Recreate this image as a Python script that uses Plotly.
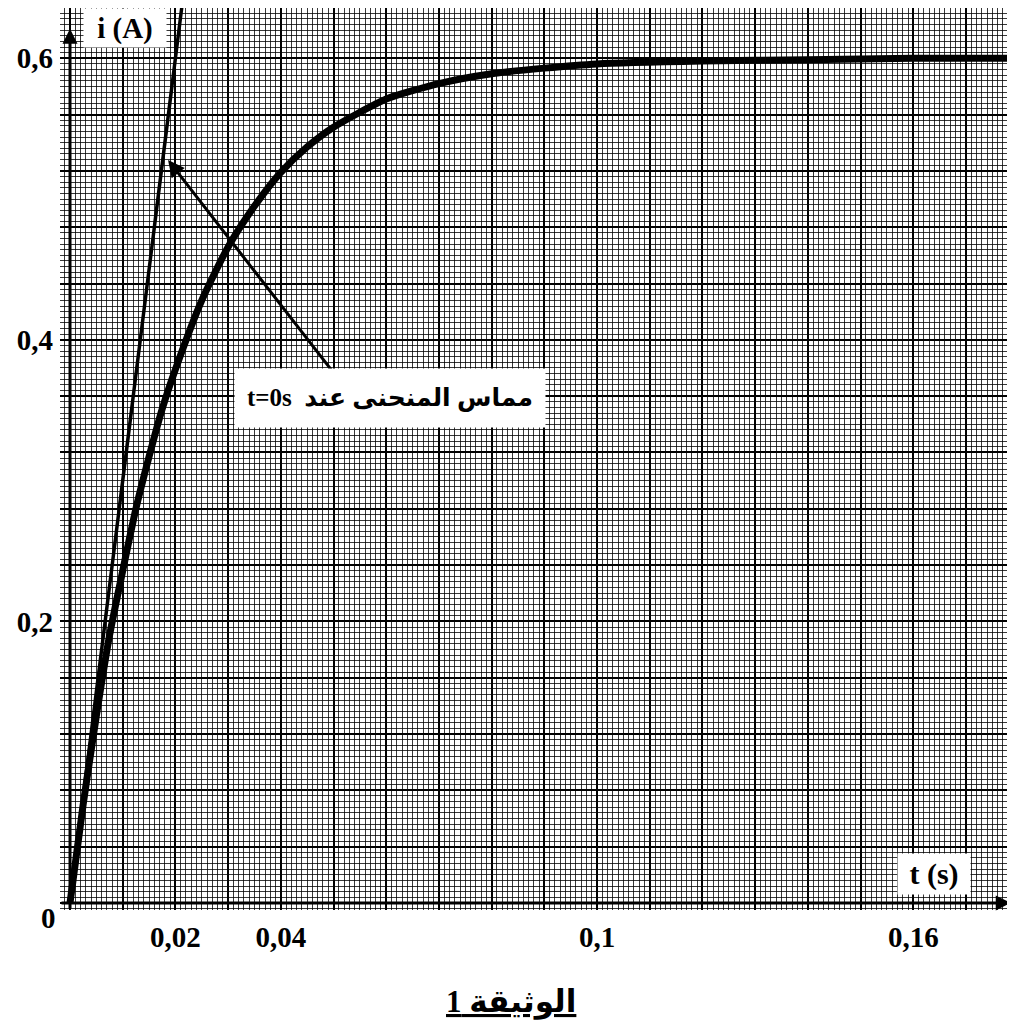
import plotly.graph_objects as go

# ---- data ----
t_curve = [0, 0.0025, 0.005, 0.0075, 0.01, 0.0125, 0.015, 0.0175, 0.02, 0.025, 0.03,
           0.035, 0.04, 0.045, 0.05, 0.06, 0.07, 0.08, 0.09, 0.1, 0.12, 0.14, 0.16, 0.18]
i_curve = [0, 0.070, 0.133, 0.190, 0.236, 0.280, 0.317, 0.351, 0.379, 0.428, 0.466,
           0.495, 0.519, 0.537, 0.551, 0.571, 0.582, 0.589, 0.593, 0.596, 0.598, 0.599, 0.600, 0.600]

t_tangent = [0, 0.022]
i_tangent = [0, 0.66]

x_tick_vals = [0.02, 0.04, 0.1, 0.16]
x_tick_text = ["0,02", "0,04", "0,1", "0,16"]
y_tick_vals = [0.2, 0.4, 0.6]
y_tick_text = ["0,2", "0,4", "0,6"]

x_range = [-0.0019, 0.1793]
y_range = [-0.005, 0.6357]

FONT = "Liberation Serif, Times New Roman, DejaVu Sans"

fig = go.Figure()
fig.add_trace(go.Scatter(x=t_tangent, y=i_tangent, mode="lines",
                         line=dict(color="black", width=3.5), showlegend=False, hoverinfo="skip"))
fig.add_trace(go.Scatter(x=t_curve, y=i_curve, mode="lines",
                         line=dict(color="black", width=7, shape="spline", smoothing=0.6),
                         showlegend=False, hoverinfo="skip"))
# invisible trace for label axes
fig.add_trace(go.Scatter(x=[x_range[0]], y=[y_range[0]], xaxis="x2", yaxis="y2", mode="markers",
                         marker=dict(opacity=0), showlegend=False, hoverinfo="skip"))

# page body has an 8px default margin -> figure is 8px smaller in each direction
fig.update_layout(
    width=1007, height=1024,
    margin=dict(l=52, r=0, t=0, b=122, autoexpand=False),
    paper_bgcolor="white", plot_bgcolor="white",
    xaxis=dict(range=x_range, tick0=0, dtick=0.01, showgrid=True, gridcolor="black", gridwidth=1.8,
               minor=dict(tick0=0, dtick=0.001, showgrid=True, gridcolor="rgba(0,0,0,0.78)", gridwidth=1.2),
               zeroline=False, showticklabels=False, ticks="", showline=False, automargin=False),
    yaxis=dict(range=y_range, tick0=0, dtick=0.04, showgrid=True, gridcolor="black", gridwidth=1.8,
               minor=dict(tick0=0, dtick=0.004, showgrid=True, gridcolor="rgba(0,0,0,0.78)", gridwidth=1.2),
               zeroline=False, showticklabels=False, ticks="", showline=False, automargin=False),
    xaxis2=dict(range=x_range, overlaying="x", anchor="y", side="bottom", showgrid=False, zeroline=False,
                tickvals=x_tick_vals, ticktext=x_tick_text, ticks="", ticklabelstandoff=7,
                tickfont=dict(family=FONT, size=29, color="black", weight="bold"), showline=False,
                automargin=False),
    yaxis2=dict(range=y_range, overlaying="y", anchor="x", side="left", showgrid=False, zeroline=False,
                tickvals=y_tick_vals, ticktext=y_tick_text, ticks="", ticklabelstandoff=6,
                tickfont=dict(family=FONT, size=29, color="black", weight="bold"), showline=False,
                automargin=False),
)

ann = []
# axes with arrows
ann.append(dict(x=0.1785, y=0, ax=x_range[0], ay=0, xref="x", yref="y", axref="x", ayref="y",
                text="", showarrow=True, arrowhead=2, arrowsize=1, arrowwidth=3, arrowcolor="black", standoff=0))
ann.append(dict(x=0, y=0.621, ax=0, ay=y_range[0], xref="x", yref="y", axref="x", ayref="y",
                text="", showarrow=True, arrowhead=2, arrowsize=1, arrowwidth=3, arrowcolor="black", standoff=0))
# pointer arrow to tangent
ann.append(dict(x=0.0186, y=0.5277, ax=0.0518, ay=0.368, xref="x", yref="y", axref="x", ayref="y",
                text="", showarrow=True, arrowhead=2, arrowsize=1.1, arrowwidth=3, arrowcolor="black", standoff=0))
# boxes with text
ann.append(dict(x=0.0607, y=0.3587, xref="x", yref="y", showarrow=False,
                text="<b>t=0s  مماس المنحنى عند</b>", font=dict(family=FONT, size=25, color="black"),
                bgcolor="white", width=310, height=58, borderpad=0))
ann.append(dict(x=0.01044, y=0.6214, xref="x", yref="y", showarrow=False,
                text="<b>i (A)</b>", font=dict(family=FONT, size=29, color="black"),
                bgcolor="white", width=82, height=38, borderpad=0))
ann.append(dict(x=0.164, y=0.0206, xref="x", yref="y", showarrow=False,
                text="<b>t (s)</b>", font=dict(family=FONT, size=30, color="black"),
                bgcolor="white", width=72, height=40, borderpad=0))
# origin label
ann.append(dict(x=0, y=0, xref="x", yref="y", showarrow=False, text="<b>0</b>",
                font=dict(family=FONT, size=29, color="black"), xshift=-22, yshift=-15))
# document title
ann.append(dict(x=0.472, y=-0.1245, xref="paper", yref="paper", showarrow=False,
                text='<b><span style="text-decoration:underline">الوثيقة 1</span></b>',
                font=dict(family=FONT, size=31, color="black")))

fig.update_layout(annotations=ann)

fig.write_html("out.html")
